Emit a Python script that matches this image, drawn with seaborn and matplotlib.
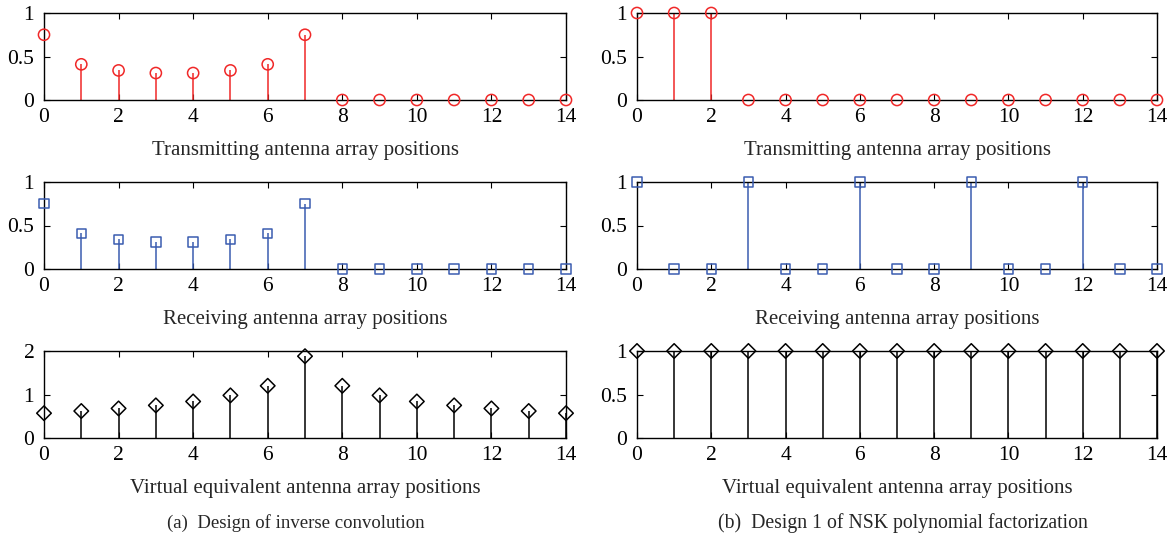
import numpy as np
import pandas as pd
import matplotlib
matplotlib.use("Agg")
import matplotlib.pyplot as plt
import seaborn as sns

sns.set_theme(style="white")
plt.rcParams['font.family'] = ['Liberation Serif', 'DejaVu Serif']
plt.rcParams['mathtext.fontset'] = 'stix'

positions = list(range(15))

# (a) Design of inverse convolution
tx_a = [0.75, 0.41, 0.34, 0.31, 0.31, 0.34, 0.41, 0.75, 0, 0, 0, 0, 0, 0, 0]
rx_a = [0.75, 0.41, 0.34, 0.31, 0.31, 0.34, 0.41, 0.75, 0, 0, 0, 0, 0, 0, 0]
virt_a = [0.57, 0.62, 0.68, 0.75, 0.84, 0.98, 1.2, 1.88, 1.2, 0.98, 0.84, 0.75, 0.68, 0.62, 0.57]

# (b) Design 1 of NSK polynomial factorization
tx_b = [1, 1, 1, 0, 0, 0, 0, 0, 0, 0, 0, 0, 0, 0, 0]
rx_b = [1, 0, 0, 1, 0, 0, 1, 0, 0, 1, 0, 0, 1, 0, 0]
virt_b = [1] * 15

xlabels = ["Transmitting antenna array positions",
           "Receiving antenna array positions",
           "Virtual equivalent antenna array positions"]
captions = ["(a)  Design of inverse convolution",
            "(b)  Design 1 of NSK polynomial factorization"]

RED = "#f02828"
BLUE = "#3a5cb0"
BLACK = "#000000"
styles = [(RED, "o"), (BLUE, "s"), (BLACK, "D")]

fig = plt.figure(figsize=(11.72, 5.46), dpi=100)

col_x = [44 / 1172, 637 / 1172]
col_w = [522 / 1172, 520 / 1172]
row_top = [13, 182, 351]
row_h = 87

data = [[tx_a, rx_a, virt_a], [tx_b, rx_b, virt_b]]
ylims = [[(0, 1), (0, 1), (0, 2)], [(0, 1), (0, 1), (0, 1)]]
yticks = [[[0, 0.5, 1], [0, 0.5, 1], [0, 1, 2]],
          [[0, 0.5, 1], [0, 0.5, 1], [0, 0.5, 1]]]
ytl = [[["0", "0.5", "1"], ["0", "0.5", "1"], ["0", "1", "2"]],
       [["0", "0.5", "1"], ["0", "0.5", "1"], ["0", "0.5", "1"]]]

for c in range(2):
    for r in range(3):
        bottom = 1 - (row_top[r] + row_h) / 546
        ax = fig.add_axes([col_x[c], bottom, col_w[c], row_h / 546])
        vals = data[c][r]
        color, marker = styles[r]
        df = pd.DataFrame({"pos": positions, "val": vals})
        ax.vlines(df["pos"], 0, df["val"], color=color, lw=1.1, zorder=2)
        ms = 65 if marker == "o" else (45 if marker == "s" else 55)
        sns.scatterplot(data=df, x="pos", y="val", ax=ax, marker=marker,
                        s=ms, facecolor="none", edgecolor=color,
                        linewidth=1.1, zorder=3, clip_on=False, legend=False)
        ax.set_xlim(0, 14)
        ax.set_ylim(*ylims[c][r])
        ax.set_xticks(range(0, 15, 2))
        ax.set_xticklabels([str(v) for v in range(0, 15, 2)])
        ax.set_yticks(yticks[c][r])
        ax.set_yticklabels(ytl[c][r])
        ax.tick_params(direction="in", length=4, width=0.8, top=True, right=True,
                       bottom=True, left=True, labelsize=15.5, colors="black")
        ax.tick_params(axis="x", pad=6)
        ax.tick_params(axis="y", pad=7)
        for sp in ax.spines.values():
            sp.set_color("black")
            sp.set_linewidth(1.0)
        ax.set_ylabel("")
        ax.set_xlabel(xlabels[r], fontsize=15, labelpad=10)
        ax.set_facecolor("white")

cap_x = [296 / 1172, 903 / 1172]
cap_fs = [13.5, 14.2]
for c in range(2):
    fig.text(cap_x[c], 1 - 523 / 546, captions[c],
             ha="center", va="center", fontsize=cap_fs[c])

fig.savefig("out.png", dpi=100, facecolor="white")
